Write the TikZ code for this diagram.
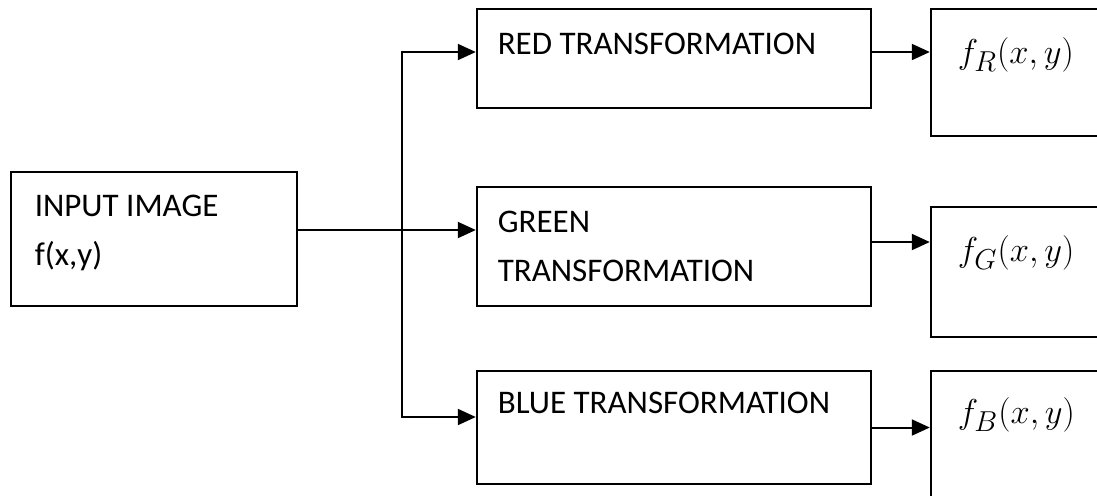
\documentclass[tikz,border=0pt]{standalone}
\usepackage{fontspec}
\setmainfont{Carlito}
\usetikzlibrary{arrows.meta,positioning}

\begin{document}
\begin{tikzpicture}[x=0.5pt, y=-0.5pt, line width=1pt, >={Triangle[length=9pt,width=8pt]},
	box/.style={draw, line width=1.2pt, rectangle, inner sep=0pt},
	txt/.style={anchor=base west, inner sep=0pt, align=left, font=\fontsize{16.5}{24.5}\selectfont},
	outtxt/.style={anchor=base west, inner sep=0pt, font=\fontsize{19}{22}\selectfont}]
	% Khung ảnh (cắt phần thừa bên phải)
	\useasboundingbox (0,0) rectangle (1097,495);
	\clip (0,0) rectangle (1097,495);
	% Khối ảnh đầu vào
	\node[box, minimum width=143pt, minimum height=67pt] (inp) at (154,239) {};
	\node[txt] (inptxt) at ([shift={(24,95)}]inp.north west) {INPUT IMAGE\\f(x,y)};
	% Các khối biến đổi màu
	\node[box, minimum width=197pt, minimum height=49.5pt] (red) at (674,58.5) {};
	\node[box, minimum width=197pt, minimum height=59.5pt] (green) at (674,246.5) {};
	\node[box, minimum width=197pt, minimum height=56.5pt] (blue) at (674,427.5) {};
	\node[txt] (redtxt) at ([shift={(21,47)}]red.north west) {RED TRANSFORMATION};
	\node[txt] (greentxt) at ([shift={(21,96)}]green.north west) {GREEN\\TRANSFORMATION};
	\node[txt] (bluetxt) at ([shift={(21,44)}]blue.north west) {BLUE TRANSFORMATION};
	% Các khối kết quả
	\foreach \c/\yc/\h/\b in {R/72.5/63.5/56, G/272/65/56, B/436/65/54} {
		\node[box, minimum width=130pt, minimum height=\h pt] (f\c) at (1061,\yc) {};
		\node[outtxt] (f\c txt) at ([shift={(27,\b)}]f\c.north west) {$f_\c(x,y)$};
	}
	% Nhánh tách tín hiệu
	\coordinate (split) at (402,230);
	\coordinate (rIn) at ([yshift=3.25pt]red.west);
	\coordinate (bIn) at ([yshift=5.25pt]blue.west);
	\draw (inp.east |- split) -- (split);
	\draw[->] (split) |- (rIn);
	\draw[->] (split) -- (split -| green.west);
	\draw[->] (split) |- (bIn);
	% Mũi tên ra khối kết quả
	\coordinate (rOut) at ([yshift=3.25pt]red.east);
	\coordinate (gOut) at ([yshift=2.25pt]green.east);
	\draw[->] (rOut) -- (rOut -| fR.west);
	\draw[->] (gOut) -- (gOut -| fG.west);
	\draw[->] (blue.east) -- (blue.east -| fB.west);
\end{tikzpicture}
\end{document}
